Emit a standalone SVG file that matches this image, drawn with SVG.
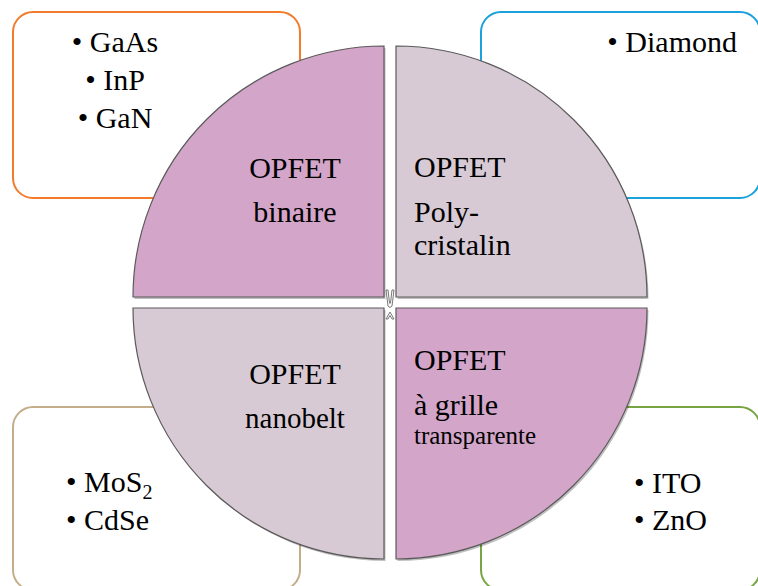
<svg xmlns="http://www.w3.org/2000/svg" width="758" height="586" viewBox="0 0 758 586">
<style>
.t{font-family:"Liberation Serif",serif;fill:#000}
.box{fill:#fff;stroke-width:2}
.q{stroke:#5a5a5a;stroke-width:1.2}
.sd{fill:#000;opacity:0.25}
.pk{fill:#D3A5C9}
.gy{fill:#D8CAD4}
</style>
<g font-family="Liberation Serif" font-size="30">
<g id="box-tl"><rect class="box" x="13" y="12" width="287" height="186" rx="20" stroke="#F47B2C"/>
<text class="t" font-family="Liberation Serif" font-size="30" x="115" y="52" text-anchor="middle">• GaAs</text>
<text class="t" font-family="Liberation Serif" font-size="30" x="115" y="90" text-anchor="middle">• InP</text>
<text class="t" font-family="Liberation Serif" font-size="30" x="115" y="128" text-anchor="middle">• GaN</text></g>
<g id="box-tr"><rect class="box" x="481" y="12" width="279" height="186" rx="20" stroke="#1BA1DB"/>
<text class="t" font-family="Liberation Serif" font-size="30" x="737" y="52" text-anchor="end">• Diamond</text></g>
<g id="box-bl"><rect class="box" x="13" y="407" width="287" height="183" rx="20" stroke="#C4AE8A"/>
<text class="t" font-family="Liberation Serif" font-size="30" x="66" y="492">• MoS<tspan font-size="20" dy="7">2</tspan></text>
<text class="t" font-family="Liberation Serif" font-size="30" x="66" y="530">• CdSe</text></g>
<g id="box-br"><rect class="box" x="481" y="407" width="279" height="183" rx="20" stroke="#78A544"/>
<text class="t" font-family="Liberation Serif" font-size="30" x="634" y="493">• ITO</text>
<text class="t" font-family="Liberation Serif" font-size="30" x="634" y="530">• ZnO</text></g>
<g id="q-tl"><path class="sd" d="M385.5,299 L134.5,299 A251,251 0 0 1 385.5,48 Z"/><path class="q pk" d="M384,297 L133,297 A251,251 0 0 1 384,46 Z"/>
<text class="t" font-family="Liberation Serif" font-size="30" x="295" y="178" text-anchor="middle">OPFET</text>
<text class="t" font-family="Liberation Serif" font-size="30" x="295" y="222" text-anchor="middle">binaire</text></g>
<g id="q-tr"><path class="sd" d="M397.5,299 L397.5,48 A251,251 0 0 1 648.5,299 Z"/><path class="q gy" d="M396,297 L396,46 A251,251 0 0 1 647,297 Z"/>
<text class="t" font-family="Liberation Serif" font-size="30" x="414" y="177">OPFET</text>
<text class="t" font-family="Liberation Serif" font-size="30" x="414" y="222">Poly-</text>
<text class="t" font-family="Liberation Serif" font-size="30" x="414" y="255">cristalin</text></g>
<g id="q-bl"><path class="sd" d="M385.5,310 L385.5,561 A251,251 0 0 1 134.5,310 Z"/><path class="q gy" d="M384,308 L384,559 A251,251 0 0 1 133,308 Z"/>
<text class="t" font-family="Liberation Serif" font-size="30" x="295" y="384" text-anchor="middle">OPFET</text>
<text class="t" font-family="Liberation Serif" font-size="29" x="295" y="428" text-anchor="middle">nanobelt</text></g>
<g id="q-br"><path class="sd" d="M397.5,310 L648.5,310 A251,251 0 0 1 397.5,561 Z"/><path class="q pk" d="M396,308 L647,308 A251,251 0 0 1 396,559 Z"/>
<text class="t" font-family="Liberation Serif" font-size="30" x="414" y="370">OPFET</text>
<text class="t" font-family="Liberation Serif" font-size="30" x="414" y="415">à grille</text>
<text class="t" font-family="Liberation Serif" font-size="25" x="414" y="444">transparente</text></g>
</g>
<g id="connectors" fill="#fff" stroke="#777" stroke-width="1">
<path d="M386,290 L388,306 Q390,309 392,306 L394,290 L392,290 L390.5,303 Q390,304 389.5,303 L388,290 Z"/>
<path d="M386,319 L390,312 L394,319 L392,319 L390,315.5 L388,319 Z"/>
</g>
</svg>
